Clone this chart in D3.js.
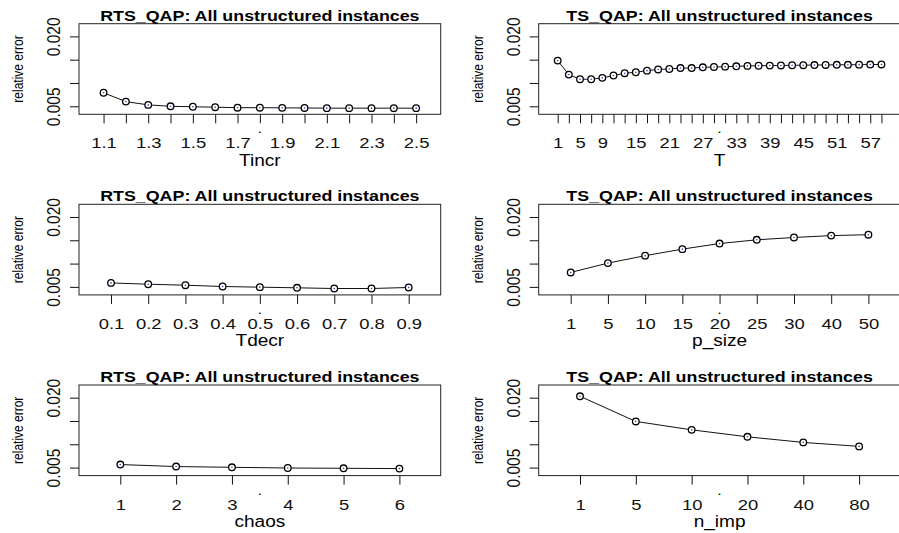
<!DOCTYPE html>
<html>
<head>
<meta charset="utf-8">
<script src="https://cdn.jsdelivr.net/npm/d3@7"></script>
<style>
  body { margin: 0; background: #fff; }
  svg { display: block; font-family: "Liberation Sans", Arial, sans-serif; }
</style>
</head>
<body>
<svg id="chart" width="899" height="533"></svg>
<script>
// data
const tincrCats = ['1.1', '1.2', '1.3', '1.4', '1.5', '1.6', '1.7', '1.8', '1.9', '2.0', '2.1', '2.2', '2.3', '2.4', '2.5']
const tincrVals = [0.0079, 0.0060, 0.0053, 0.0050, 0.0049, 0.0048, 0.0047, 0.0047, 0.00466, 0.00464, 0.0046, 0.0046, 0.0046, 0.0046, 0.0046]
const tincrShown = ['1.1', '1.3', '1.5', '1.7', '1.9', '2.1', '2.3', '2.5']

const tCats = ['1', '3', '5', '7', '9', '11', '13', '15', '17', '19', '21', '23', '25', '27', '29',
  '31', '33', '35', '37', '39', '41', '43', '45', '47', '49', '51', '53', '55', '57', '59']
const tVals = [0.0148, 0.0118, 0.0108, 0.0108, 0.0111, 0.0116, 0.0121, 0.0123, 0.01265, 0.0129,
  0.0130, 0.0132, 0.0132, 0.01336, 0.01343, 0.0135, 0.01358, 0.01366, 0.0137, 0.01373,
  0.01376, 0.0138, 0.01382, 0.01385, 0.01387, 0.0139, 0.0139, 0.01393, 0.01395, 0.01398]
const tShown = ['1', '5', '9', '15', '21', '27', '33', '39', '45', '51', '57']

const tdecrCats = ['0.1', '0.2', '0.3', '0.4', '0.5', '0.6', '0.7', '0.8', '0.9']
const tdecrVals = [0.00585, 0.00557, 0.00536, 0.00508, 0.00494, 0.0048, 0.00465, 0.00465, 0.00487]

const psizeCats = ['1', '5', '10', '15', '20', '25', '30', '40', '50']
const psizeVals = [0.0081, 0.0101, 0.0117, 0.0131, 0.0143, 0.0151, 0.0156, 0.0160, 0.0162]

const chaosCats = ['1', '2', '3', '4', '5', '6']
const chaosVals = [0.00565, 0.00522, 0.00506, 0.00491, 0.00485, 0.00478]

const nimpCats = ['1', '5', '10', '20', '40', '80']
const nimpVals = [0.0203, 0.0149, 0.0131, 0.0116, 0.0104, 0.00955]

const yTicks = [0.005, 0.010, 0.015, 0.020]
const yShown = [0.005, 0.020]
const yLim = [0.004, 0.022]

const rtsTitle = 'RTS_QAP: All unstructured instances'
const tsTitle = 'TS_QAP: All unstructured instances'

const panels = [
  { title: rtsTitle, xlab: 'Tincr', cats: tincrCats, vals: tincrVals, shown: tincrShown, col: 0, row: 0 },
  { title: tsTitle, xlab: 'T', cats: tCats, vals: tVals, shown: tShown, col: 1, row: 0 },
  { title: rtsTitle, xlab: 'Tdecr', cats: tdecrCats, vals: tdecrVals, shown: tdecrCats, col: 0, row: 1 },
  { title: tsTitle, xlab: 'p_size', cats: psizeCats, vals: psizeVals, shown: psizeCats, col: 1, row: 1 },
  { title: rtsTitle, xlab: 'chaos', cats: chaosCats, vals: chaosVals, shown: chaosCats, col: 0, row: 2 },
  { title: tsTitle, xlab: 'n_imp', cats: nimpCats, vals: nimpVals, shown: nimpCats, col: 1, row: 2 }
]

// layout (the picture is stretched horizontally, so text gets an x scale)
const sx = 1.19
const colLeft = [79, 538.7]
const boxW = 361.7
const rowTop = [23.7, 204.3, 385]
const boxH = 90.6
const tickLen = 9

const svg = d3.select('#chart')
svg.append('rect').attr('width', 899).attr('height', 533).attr('fill', '#fff')

panels.forEach(p => {
  const x0 = colLeft[p.col]
  const y0 = rowTop[p.row]
  const x1 = x0 + boxW
  const y1 = y0 + boxH
  const n = p.cats.length

  // R style: xlim c(0.5, n + 0.5) plus 4% on each side
  const xScale = d3.scalePoint()
    .domain(p.cats)
    .range([x0, x1])
    .padding(0.5 + 0.04 * n)

  const ext = (yLim[1] - yLim[0]) * 0.04
  const yScale = d3.scaleLinear()
    .domain([yLim[0] - ext, yLim[1] + ext])
    .range([y1, y0])

  const g = svg.append('g')

  // x axis
  const xAxis = d3.axisBottom(xScale)
    .tickSize(tickLen)
    .tickSizeOuter(0)
    .tickFormat(d => p.shown.includes(d) ? d : '')

  const gx = g.append('g')
    .attr('transform', `translate(0,${y1})`)
    .call(xAxis)
  gx.select('.domain').remove()
  gx.selectAll('.tick line').attr('stroke', '#111')
  gx.selectAll('.tick text')
    .attr('y', 0)
    .attr('dy', null)
    .attr('transform', `translate(0,34) scale(${sx},1)`)
    .attr('text-anchor', 'middle')
    .style('font-size', '15.5px')
    .style('fill', '#111')

  // y axis
  const yAxis = d3.axisLeft(yScale)
    .tickValues(yTicks)
    .tickSize(tickLen)
    .tickSizeOuter(0)
    .tickFormat(d => yShown.includes(d) ? d3.format('.3f')(d) : '')

  const gy = g.append('g')
    .attr('transform', `translate(${x0},0)`)
    .call(yAxis)
  gy.select('.domain').remove()
  gy.selectAll('.tick line').attr('stroke', '#111')
  gy.selectAll('.tick text')
    .attr('x', 0)
    .attr('dy', null)
    .attr('transform', `translate(-19,0) scale(${sx},1) rotate(-90)`)
    .attr('text-anchor', 'middle')
    .style('font-size', '15.5px')
    .style('fill', '#111')

  // box
  g.append('rect')
    .attr('x', x0).attr('y', y0)
    .attr('width', boxW).attr('height', boxH)
    .attr('fill', 'none')
    .attr('stroke', '#222')
    .attr('stroke-width', 1)

  // line + points
  const lineGen = d3.line()
    .x((d, i) => xScale(p.cats[i]))
    .y(d => yScale(d))

  g.append('path')
    .datum(p.vals)
    .attr('d', lineGen)
    .attr('fill', 'none')
    .attr('stroke', '#111')
    .attr('stroke-width', 1)

  g.selectAll('circle.pt')
    .data(p.vals)
    .join('circle')
    .attr('class', 'pt')
    .attr('cx', (d, i) => xScale(p.cats[i]))
    .attr('cy', d => yScale(d))
    .attr('r', 3.3)
    .attr('fill', '#fff')
    .attr('stroke', '#000')
    .attr('stroke-width', 1.3)

  g.selectAll('circle.dot')
    .data(p.vals)
    .join('circle')
    .attr('class', 'dot')
    .attr('cx', (d, i) => xScale(p.cats[i]))
    .attr('cy', d => yScale(d))
    .attr('r', 0.8)
    .attr('fill', '#3040b0')

  // texts
  const cx = (x0 + x1) / 2
  g.append('text')
    .attr('transform', `translate(${cx},${y0 - 3}) scale(${sx},1)`)
    .attr('text-anchor', 'middle')
    .style('font-size', '15px')
    .style('font-weight', 'bold')
    .text(p.title)

  g.append('text')
    .attr('transform', `translate(${cx},${y1 + 51.4}) scale(${sx},1)`)
    .attr('text-anchor', 'middle')
    .style('font-size', '16px')
    .text(p.xlab)

  // stray dot below the axis centre, small font so it keeps clear of tick labels
  g.append('text')
    .attr('transform', `translate(${cx},${y1 + 19}) scale(${sx},1)`)
    .attr('text-anchor', 'middle')
    .style('font-size', '9px')
    .style('font-weight', 'bold')
    .text('.')

  g.append('text')
    .attr('transform', `translate(${x0 - 56},${(y0 + y1) / 2}) scale(${sx},1) rotate(-90)`)
    .attr('text-anchor', 'middle')
    .style('font-size', '12px')
    .text('relative error')
})
</script>
</body>
</html>
